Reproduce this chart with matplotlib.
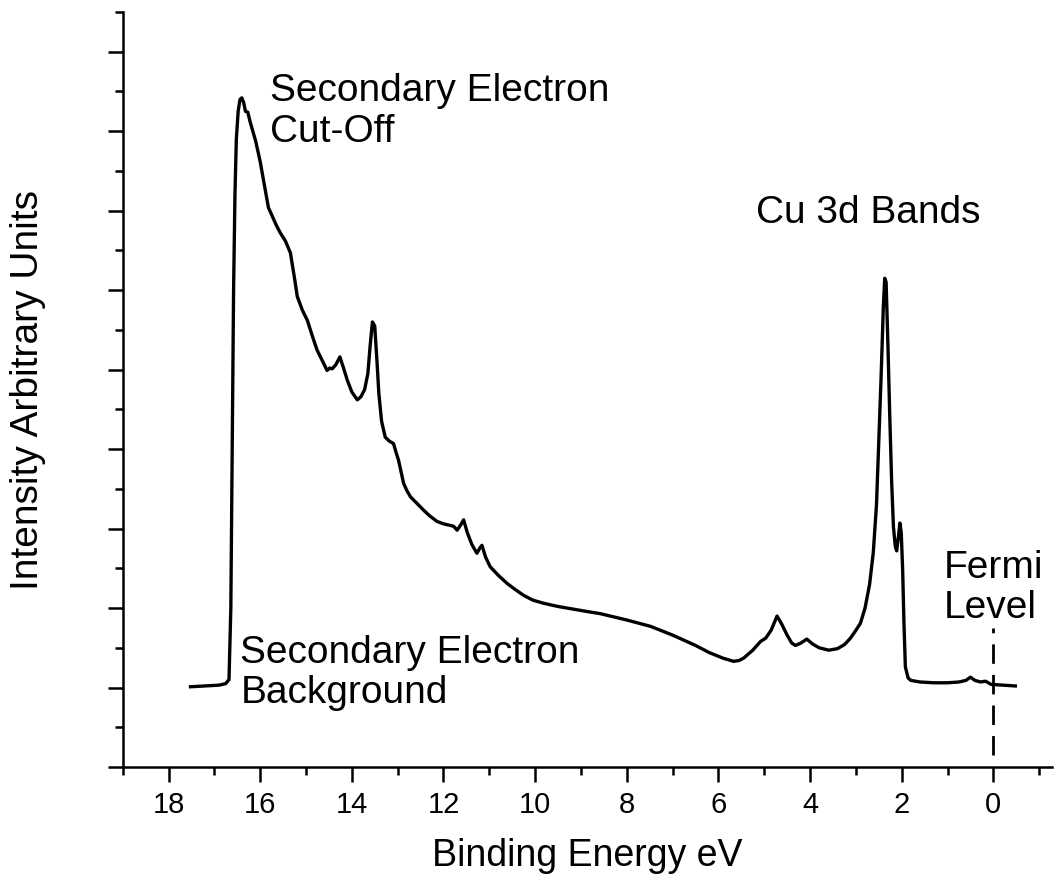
import matplotlib

matplotlib.use("Agg")
import matplotlib.pyplot as plt
from matplotlib.ticker import MultipleLocator, NullFormatter

# UPS spectrum of Cu: binding energy (eV) vs intensity (arb. units)
energy = [
    17.52, 17.2, 16.9, 16.75, 16.68, 16.64, 16.61, 16.58, 16.55, 16.52,
    16.48, 16.44, 16.40, 16.36, 16.32, 16.27, 16.22, 16.10, 16.00, 15.90,
    15.82, 15.75, 15.65, 15.56, 15.45, 15.34, 15.25, 15.19, 15.08, 14.97,
    14.86, 14.76, 14.65, 14.54, 14.48, 14.43, 14.35, 14.26, 14.18, 14.10,
    14.00, 13.88, 13.80, 13.72, 13.65, 13.60, 13.55, 13.50, 13.45, 13.41,
    13.35, 13.27, 13.18, 13.09, 13.03, 12.98, 12.92, 12.87, 12.80, 12.72,
    12.60, 12.43, 12.30, 12.14, 12.00, 11.85, 11.78, 11.70, 11.62, 11.56,
    11.48, 11.38, 11.27, 11.20, 11.16, 11.08, 10.98, 10.80, 10.61, 10.45,
    10.25, 10.05, 9.81, 9.50, 9.20, 8.90, 8.58, 8.00, 7.48, 7.00,
    6.50, 6.20, 5.90, 5.67, 5.55, 5.45, 5.25, 5.08, 4.97, 4.85,
    4.72, 4.62, 4.50, 4.40, 4.32, 4.20, 4.07, 3.95, 3.80, 3.59,
    3.40, 3.25, 3.12, 3.00, 2.90, 2.80, 2.70, 2.62, 2.55, 2.50,
    2.45, 2.40, 2.37, 2.34, 2.30, 2.26, 2.22, 2.18, 2.14, 2.11,
    2.07, 2.04, 2.01, 1.98, 1.95, 1.92, 1.86, 1.80, 1.60, 1.30,
    1.00, 0.75, 0.60, 0.50, 0.40, 0.28, 0.17, 0.05, -0.20, -0.48,
]
intensity = [
    1.01, 1.02, 1.03, 1.05, 1.10, 2.00, 4.00, 6.00, 7.20, 7.90,
    8.25, 8.40, 8.42, 8.36, 8.25, 8.24, 8.12, 7.88, 7.62, 7.30,
    7.04, 6.95, 6.82, 6.72, 6.62, 6.47, 6.15, 5.92, 5.75, 5.62,
    5.42, 5.25, 5.12, 4.99, 5.02, 5.01, 5.06, 5.16, 5.02, 4.87,
    4.72, 4.62, 4.66, 4.75, 4.95, 5.30, 5.60, 5.55, 5.10, 4.70,
    4.35, 4.15, 4.10, 4.07, 3.95, 3.86, 3.70, 3.57, 3.48, 3.40,
    3.33, 3.23, 3.16, 3.09, 3.06, 3.04, 3.03, 2.98, 3.05, 3.11,
    2.95, 2.80, 2.69, 2.76, 2.79, 2.64, 2.52, 2.41, 2.31, 2.24,
    2.16, 2.10, 2.06, 2.02, 1.99, 1.96, 1.93, 1.85, 1.77, 1.66,
    1.53, 1.44, 1.37, 1.33, 1.34, 1.37, 1.47, 1.58, 1.62, 1.72,
    1.90, 1.80, 1.66, 1.56, 1.53, 1.56, 1.61, 1.55, 1.50, 1.47,
    1.49, 1.54, 1.62, 1.72, 1.81, 2.00, 2.30, 2.70, 3.30, 4.10,
    4.90, 5.80, 6.15, 6.10, 5.30, 4.41, 3.60, 3.02, 2.78, 2.72,
    2.90, 3.07, 2.95, 2.50, 1.80, 1.26, 1.12, 1.09, 1.07, 1.06,
    1.06, 1.07, 1.09, 1.13, 1.09, 1.07, 1.08, 1.04, 1.03, 1.02,
]

fermi_level = 0.0
fermi_top = 1.75

plt.rcParams["font.family"] = ["Liberation Sans", "DejaVu Sans"]

fig = plt.figure(figsize=(10.54, 8.89), dpi=100)
ax = fig.add_axes([0.1164, 0.1372, 0.8817, 0.8493])

ax.plot(energy, intensity, color="black", lw=2.4, solid_joinstyle="round")
ax.vlines(fermi_level, 0.15, fermi_top, colors="black", lw=2.0,
          linestyles=(0, (7, 4)))

ax.set_xlim(19.0, -1.28)
ax.set_ylim(0, 9.5)

for side in ("top", "right"):
    ax.spines[side].set_visible(False)
for side in ("left", "bottom"):
    ax.spines[side].set_linewidth(1.8)

ax.xaxis.set_major_locator(MultipleLocator(2))
ax.xaxis.set_minor_locator(MultipleLocator(1))
ax.yaxis.set_major_locator(MultipleLocator(1))
ax.yaxis.set_minor_locator(MultipleLocator(0.5))
ax.yaxis.set_major_formatter(NullFormatter())
ax.tick_params(which="major", direction="out", length=11, width=1.8,
               labelsize=21, pad=6)
ax.tick_params(which="minor", direction="out", length=6, width=1.8)

ax.set_xlabel("Binding Energy eV", fontsize=27, labelpad=14)
ax.set_ylabel("Intensity Arbitrary Units", fontsize=28, labelpad=38)

txt = dict(fontsize=28, color="black", ha="left", va="baseline",
           linespacing=1.15)
ax.text(15.78, 7.87, "Secondary Electron\nCut-Off", **txt)
ax.text(5.19, 6.84, "Cu 3d Bands", **txt)
ax.text(1.09, 1.874, "Fermi\nLevel", **txt)
ax.text(16.43, 0.805, "Secondary Electron\nBackground", **txt)

fig.savefig("out.png", dpi=100)
